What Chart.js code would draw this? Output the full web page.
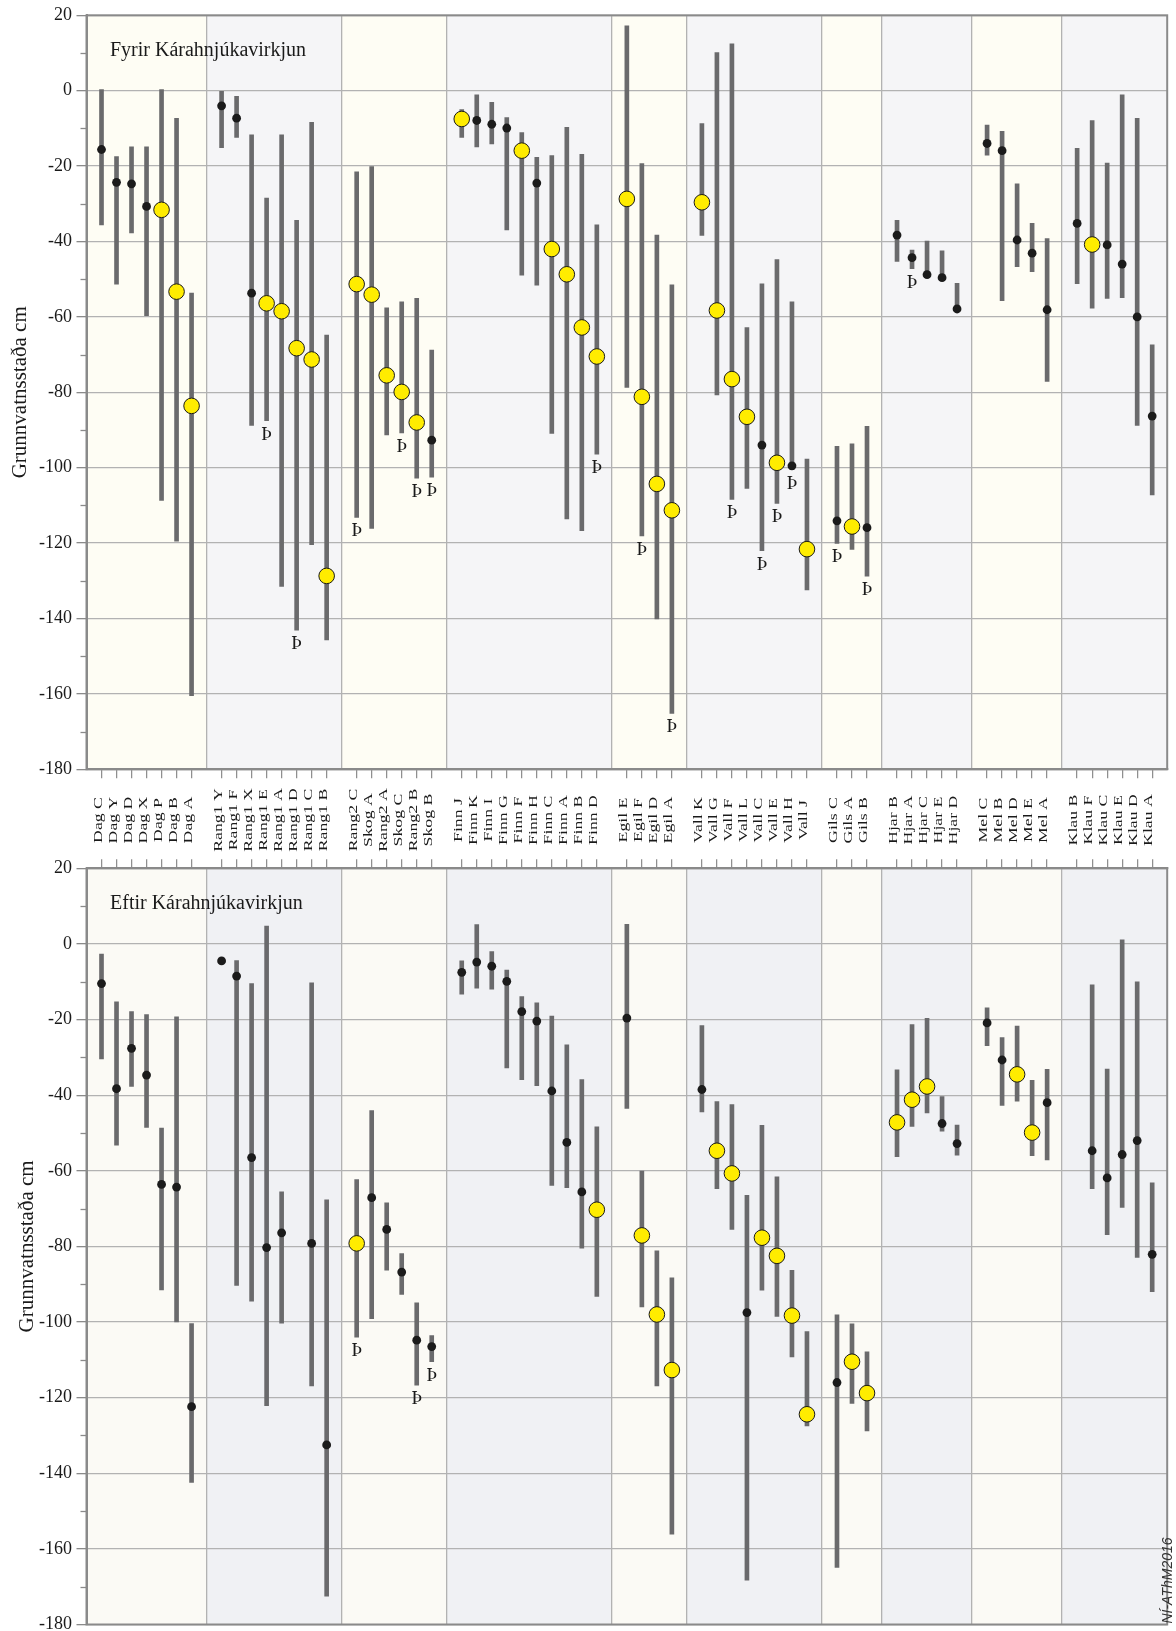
<!DOCTYPE html>
<html><head><meta charset="utf-8">
<script src="https://cdn.jsdelivr.net/npm/chart.js@4/dist/chart.umd.min.js"></script>
<style>
html,body{margin:0;padding:0;background:#fff;overflow:hidden;}
#wrap{position:relative;width:1176px;height:1631px;overflow:hidden;background:#fff;}
canvas{position:absolute;left:0;}
#cA{top:0;}
#cB{top:845px;}
</style></head>
<body>
<div id="wrap">
<canvas id="cA" width="1176" height="870"></canvas>
<canvas id="cB" width="1176" height="800"></canvas>
</div>
<script>
// ---------- data ----------
const categories = [
 'Dag C','Dag Y','Dag D','Dag X','Dag P','Dag B','Dag A',
 'Rang1 Y','Rang1 F','Rang1 X','Rang1 E','Rang1 A','Rang1 D','Rang1 C','Rang1 B',
 'Rang2 C','Skog A','Rang2 A','Skog C','Rang2 B','Skog B',
 'Finn J','Finn K','Finn I','Finn G','Finn F','Finn H','Finn C','Finn A','Finn B','Finn D',
 'Egil E','Egil F','Egil D','Egil A',
 'Vall K','Vall G','Vall F','Vall L','Vall C','Vall E','Vall H','Vall J',
 'Gils C','Gils A','Gils B',
 'Hjar B','Hjar A','Hjar C','Hjar E','Hjar D',
 'Mel C','Mel B','Mel D','Mel E','Mel A',
 'Klau B','Klau F','Klau C','Klau E','Klau D','Klau A'
];
const groupSizes = [7, 8, 6, 10, 4, 8, 3, 5, 5, 6];
const yTicks = {min: -180, max: 20, step: 20};

// Fyrir Kárahnjúkavirkjun
const fyrirMean = [
 -15.6, -24.3, -24.7, -30.7, -31.6, -53.3, -83.6,
 -4, -7.3, -53.7, -56.4, -58.5, -68.3, -71.3, -128.7,
 -51.3, -54.1, -75.5, -79.9, -88, -92.7,
 -7.5, -7.9, -8.9, -9.9, -15.9, -24.5, -42, -48.7, -62.8, -70.5,
 -28.7, -81.2, -104.3, -111.3,
 -29.6, -58.3, -76.5, -86.5, -94, -98.7, -99.5, -121.6,
 -114.1, -115.6, -115.9,
 -38.3, -44.3, -48.8, -49.6, -57.9,
 -14, -15.9, -39.6, -43.1, -58.1,
 -35.2, -40.8, -40.9, -46, -60, -86.3
];
const fyrirHigh = [
 0.3, -17.5, -14.9, -14.9, 0.3, -7.3, -53.7,
 0, -1.5, -11.7, -28.5, -11.7, -34.4, -8.4, -64.8,
 -21.5, -20.1, -57.6, -56, -55.1, -68.8,
 -5, -1.1, -3.1, -7.1, -11.1, -17.7, -17.2, -9.7, -16.9, -35.6,
 17.2, -19.3, -38.3, -51.5,
 -8.7, 10.1, 12.4, -62.8, -51.2, -44.8, -56, -97.7,
 -94.3, -93.7, -89,
 -34.4, -42.3, -39.9, -42.5, -51.1,
 -9.1, -10.8, -24.7, -35.2, -39.2,
 -15.3, -7.9, -19.2, -1.1, -7.3, -67.4
];
const fyrirLow = [
 -35.6, -51.3, -37.7, -59.7, -108.7, -119.5, -160.5,
 -15.1, -12.4, -88.8, -87.5, -131.5, -143.1, -120.4, -145.7,
 -113.2, -116.1, -91.3, -90.8, -102.8, -102.5,
 -12.4, -14.9, -14.1, -36.9, -48.9, -51.6, -90.9, -113.6, -116.7, -96.4,
 -78.7, -118.1, -140.1, -165.2,
 -38.4, -80.7, -108.4, -105.5, -122, -109.5, -100.5, -132.4,
 -120.1, -121.7, -128.8,
 -45.3, -47.2, -49, -49.8, -58,
 -17.1, -55.7, -46.7, -48, -77.1,
 -51.2, -57.7, -55.1, -54.9, -88.8, -107.2
];
const fyrirYellow = [
 0,0,0,0,1,1,1,
 0,0,0,1,1,1,1,1,
 1,1,1,1,1,0,
 1,0,0,0,1,0,1,1,1,1,
 1,1,1,1,
 1,1,1,1,0,1,0,1,
 0,1,0,
 0,0,0,0,0,
 0,0,0,0,0,
 0,1,0,0,0,0
];
const fyrirThorn = [
 0,0,0,0,0,0,0,
 0,0,0,1,0,1,0,0,
 1,0,0,1,1,1,
 0,0,0,0,0,0,0,0,0,1,
 0,1,0,1,
 0,0,1,0,1,1,1,0,
 1,0,1,
 0,1,0,0,0,
 0,0,0,0,0,
 0,0,0,0,0,0
];

// Eftir Kárahnjúkavirkjun
const eftirMean = [
 -10.5, -38.3, -27.6, -34.7, -63.6, -64.3, -122.4,
 -4.5, -8.5, -56.5, -80.3, -76.4, null, -79.2, -132.5,
 -79.2, -67.1, -75.5, -86.8, -104.8, -106.5,
 -7.5, -4.8, -5.9, -9.9, -17.9, -20.4, -38.9, -52.5, -65.6, -70.3,
 -19.6, -77.1, -98, -112.7,
 -38.5, -54.7, -60.7, -97.5, -77.7, -82.5, -98.3, -124.4,
 -116, -110.5, -118.8,
 -47.2, -41.2, -37.7, -47.5, -52.8,
 -20.9, -30.7, -34.5, -49.9, -42,
 null, -54.7, -61.9, -55.7, -52, -82.1
];
const eftirHigh = [
 -2.7, -15.3, -17.9, -18.7, -48.7, -19.3, -100.4,
 null, -4.4, -10.5, 4.7, -65.6, null, -10.3, -67.7,
 -62.3, -44.1, -68.5, -81.9, -94.9, -103.6,
 -4.5, 5.1, -2, -6.9, -13.9, -15.6, -19.1, -26.7, -35.9, -48.4,
 5.2, -60.1, -81.2, -88.3,
 -21.6, -41.7, -42.5, -66.5, -48, -61.6, -86.3, -102.5,
 -98.1, -100.5, -107.9,
 -33.3, -21.3, -19.7, -40.4, -47.9,
 -16.9, -24.8, -21.7, -36.1, -33.2,
 null, -10.8, -33.1, 1.1, -10, -63.2
];
const eftirLow = [
 -30.4, -53.2, -37.7, -48.5, -91.5, -100, -142.4,
 null, -90.3, -94.5, -122.1, -100.3, null, -116.9, -172.5,
 -104, -99.1, -86.3, -92.7, -116.7, -110.5,
 -13.3, -11.7, -12, -32.8, -35.9, -37.5, -63.9, -64.5, -80.5, -93.2,
 -43.5, -96, -116.9, -156.1,
 -44.4, -64.7, -75.5, -168.3, -91.6, -98.5, -109.2, -127.5,
 -164.9, -121.5, -128.8,
 -56.3, -48.3, -44.7, -49.5, -55.9,
 -26.9, -42.7, -41.6, -56, -57.1,
 null, -64.7, -76.9, -69.7, -82.9, -92
];
const eftirYellow = [
 0,0,0,0,0,0,0,
 0,0,0,0,0,0,0,0,
 1,0,0,0,0,0,
 0,0,0,0,0,0,0,0,0,1,
 0,1,1,1,
 0,1,1,0,1,1,1,1,
 0,1,1,
 1,1,1,0,0,
 0,0,1,1,0,
 0,0,0,0,0,0
];
const eftirThorn = [
 0,0,0,0,0,0,0,
 0,0,0,0,0,0,0,0,
 1,0,0,0,1,1,
 0,0,0,0,0,0,0,0,0,0,
 0,0,0,0,
 0,0,0,0,0,0,0,0,
 0,0,0,
 0,0,0,0,0,
 0,0,0,0,0,
 0,0,0,0,0,0
];

// ---------- slot layout (category axis with empty gap slots) ----------
const slotLabels = [''];
const slotOfCat = [];
const boundaries = [0];
{
  let k = 0;
  groupSizes.forEach((n) => {
    for (let j = 0; j < n; j++) { slotOfCat.push(slotLabels.length); slotLabels.push(categories[k++]); }
    boundaries.push(slotLabels.length);
    slotLabels.push('');
  });
}

function toSlots(arr, fn) {
  const out = new Array(slotLabels.length).fill(null);
  arr.forEach((v, k) => { out[slotOfCat[k]] = fn(v, k); });
  return out;
}

const GRID = '#b2b2b2';
const AXIS = '#8a8a8a';
const SERIF = 'Liberation Serif';
Chart.defaults.font.family = SERIF;
Chart.defaults.color = '#1a1a1a';

function makeChart(canvasId, o) {
  const bars = toSlots(o.mean, (v, k) => (o.low[k] == null || o.high[k] == null) ? null : [o.low[k], o.high[k]]);
  const black = toSlots(o.mean, (v, k) => (v != null && !o.yellow[k]) ? v : null);
  const yellow = toSlots(o.mean, (v, k) => (v != null && o.yellow[k]) ? v : null);

  const decor = {
    id: 'decor' + canvasId,
    beforeDraw(chart) {
      const {ctx, chartArea: a, scales: {x}} = chart;
      ctx.save();
      for (let b = 0; b < boundaries.length - 1; b++) {
        const x1 = x.getPixelForValue(boundaries[b]);
        const x2 = x.getPixelForValue(boundaries[b + 1]);
        ctx.fillStyle = b % 2 === 0 ? o.bandA : o.bandB;
        ctx.fillRect(x1, a.top, x2 - x1, a.bottom - a.top);
      }
      ctx.restore();
    },
    afterDatasetsDraw(chart) {
      const {ctx, chartArea: a, scales: {x, y}} = chart;
      ctx.save();
      ctx.fillStyle = '#1a1a1a';
      ctx.font = '19px "Liberation Serif"';
      ctx.textAlign = 'center';
      ctx.textBaseline = 'middle';
      o.thorn.forEach((t, k) => {
        if (!t) return;
        const px = x.getPixelForValue(slotOfCat[k]);
        const py = y.getPixelForValue(o.low[k]) + 14;
        ctx.fillText('Þ', px, py);
      });
      ctx.font = '20px "Liberation Serif"';
      ctx.textAlign = 'left';
      ctx.textBaseline = 'alphabetic';
      ctx.fillText(o.title, 110, a.top + 40.5);
      ctx.restore();
    },
    afterDraw(chart) {
      const {ctx, chartArea: a, scales: {x, y}} = chart;
      ctx.save();
      ctx.strokeStyle = AXIS;
      ctx.lineWidth = 1.3;
      for (let v = yTicks.min + 10; v < yTicks.max; v += 20) {
        const py = Math.round(y.getPixelForValue(v)) + 0.5;
        ctx.beginPath(); ctx.moveTo(a.left - 6, py); ctx.lineTo(a.left, py); ctx.stroke();
      }
      ctx.strokeStyle = AXIS;
      ctx.lineWidth = 2;
      ctx.strokeRect(a.left, a.top, a.right - a.left, a.bottom - a.top);
      if (o.drawLabels) {
        ctx.fillStyle = '#1a1a1a';
        ctx.font = '12.5px "Liberation Serif"';
        ctx.textAlign = 'center';
        ctx.textBaseline = 'alphabetic';
        slotLabels.forEach((lab, i) => {
          if (!lab) return;
          const px = x.getPixelForValue(i);
          ctx.save();
          ctx.translate(px + 0.3, 820);
          ctx.rotate(-Math.PI / 2);
          ctx.scale(1.42, 1);
          ctx.fillText(lab, 0, 0);
          ctx.restore();
        });
      }
      if (o.watermark) {
        ctx.fillStyle = '#333';
        ctx.font = 'italic 14px "Liberation Sans"';
        ctx.textAlign = 'center';
        ctx.textBaseline = 'alphabetic';
        ctx.translate(1172, a.bottom - 44);
        ctx.rotate(-Math.PI / 2);
        ctx.fillText(o.watermark, 0, 0);
      }
      ctx.restore();
    }
  };

  const isBoundary = (i) => slotLabels[i] === '' && i > 0 && i < slotLabels.length - 1;

  return new Chart(document.getElementById(canvasId), {
    type: 'bar',
    data: {
      labels: slotLabels,
      datasets: [
        { type: 'line', data: yellow, showLine: false, pointRadius: 7.8, pointHoverRadius: 7.8,
          pointBackgroundColor: '#ffec00', pointBorderColor: '#1a1a1a', pointBorderWidth: 1, order: 1 },
        { type: 'line', data: black, showLine: false, pointRadius: 4.4, pointHoverRadius: 4.4,
          pointBackgroundColor: '#1b1b1b', pointBorderWidth: 0, order: 2 },
        { type: 'bar', data: bars, backgroundColor: '#6a6a6c', borderWidth: 0, barThickness: 4, order: 3 }
      ]
    },
    options: {
      responsive: false,
      animation: false,
      events: [],
      layout: { padding: o.padding },
      plugins: { legend: { display: false }, tooltip: { enabled: false }, title: { display: false } },
      scales: {
        x: {
          type: 'category',
          position: o.xPos,
          offset: false,
          grid: {
            offset: false,
            color: (c) => isBoundary(c.index) ? GRID : 'rgba(0,0,0,0)',
            tickColor: (c) => slotLabels[c.index] ? AXIS : 'rgba(0,0,0,0)',
            lineWidth: 1.3,
            tickWidth: 1.2,
            tickLength: 9
          },
          border: { color: AXIS, width: 2 },
          ticks: { display: false, autoSkip: false },
          afterFit: (s) => { s.height = o.xHeight; }
        },
        y: {
          type: 'linear',
          min: yTicks.min,
          max: yTicks.max,
          ticks: {
            stepSize: yTicks.step,
            padding: 4.5,
            color: '#1a1a1a',
            font: { family: SERIF, size: 18 },
            callback: (v) => String(v)
          },
          grid: { color: GRID, lineWidth: 1.3, tickLength: 10, tickColor: AXIS, tickWidth: 1.3 },
          border: { color: AXIS, width: 2 },
          title: {
            display: true,
            text: 'Grunnvatnsstaða cm',
            color: '#1a1a1a',
            font: { family: SERIF, size: 21 },
            padding: { top: o.titlePad, bottom: 0 }
          },
          afterFit: (s) => { s.width = 86.5; }
        }
      }
    },
    plugins: [decor]
  });
}

makeChart('cA', {
  mean: fyrirMean, low: fyrirLow, high: fyrirHigh, yellow: fyrirYellow, thorn: fyrirThorn,
  title: 'Fyrir Kárahnjúkavirkjun',
  bandA: '#fefdf4', bandB: '#f5f5f7',
  padding: { left: 0, right: 1.5, top: 13.6, bottom: 0 },
  xPos: 'bottom', xHeight: 100.7, titlePad: 7.5, drawLabels: true
});

makeChart('cB', {
  mean: eftirMean, low: eftirLow, high: eftirHigh, yellow: eftirYellow, thorn: eftirThorn,
  title: 'Eftir Kárahnjúkavirkjun',
  bandA: '#fbfaf5', bandB: '#f0f1f4',
  padding: { left: 0, right: 1.5, top: 13.3, bottom: 20.5 },
  xPos: 'top', xHeight: 10, titlePad: 15, drawLabels: false,
  watermark: 'NÍ-AThM2016'
});
</script>
</body></html>
